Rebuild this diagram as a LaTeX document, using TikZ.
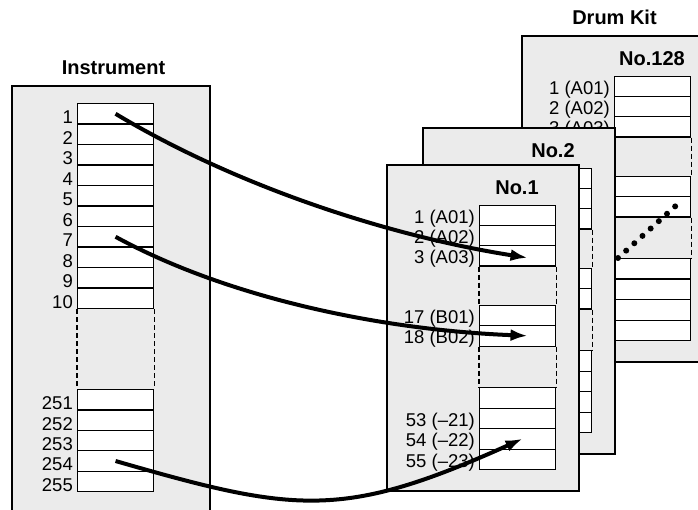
\documentclass[tikz,border=0pt]{standalone}
\usepackage{fontspec}
\setmainfont{Liberation Sans}
\usetikzlibrary{arrows.meta}

\begin{document}
\begin{tikzpicture}[
        x=1pt, y=-1pt,
        % Style for the stippled panels
        panel/.style={draw=black, line width=2.4pt, fill=black!8},
        % Style for one slot of a list
        slot/.style={
            rectangle, draw=black, line width=1.1pt, fill=white,
            minimum width=76pt, minimum height=20.5pt,
            inner sep=0pt, anchor=north west
        },
        % Style for the numbers left of a list
        num/.style={anchor=base east, inner sep=0pt, font=\fontsize{18.5}{18.5}\selectfont},
        heading/.style={anchor=base, inner sep=0pt, font=\fontsize{20}{20}\selectfont\bfseries},
        gap/.style={line width=1.1pt, dash pattern=on 5pt off 3pt},
        maparrow/.style={line width=4pt, -{Latex[length=17pt, width=12pt]}},
        % Reusable "pic" for one drum kit sheet
        drumkit/.pic={
            \draw[panel] (0,0) rectangle (192,326);
            \node[heading] at (130,30) {\tikzpictext};
            \foreach \t/\n in {0/a1, 20/a2, 40/a3, 100/b1, 120/b2,
                               182/c1, 202.5/c2, 223/c3, 243.5/c4}
                \node[slot] (-\n) at (92,{40+\t}) {};
            \draw[gap] (-a3.south west) -- (-b1.north west);
            \draw[gap] (-a3.south east) -- (-b1.north east);
            \draw[gap] (-b2.south west) -- (-c1.north west);
            \draw[gap] (-b2.south east) -- (-c1.north east);
        }
    ]
    \path[use as bounding box, clip] (0,0) rectangle (698,510);

    % 1. Instrument list
    \draw[panel] (12,86) rectangle (210,530);
    \node[heading] (instrument) at (113.5,75) {Instrument};
    \foreach \k in {1,...,10} {
        \node[slot] (inst\k) at (77,{103+20.5*(\k-1)}) {};
        \node[num, xshift=-4pt, yshift=1pt] at (inst\k.south west) {\k};
    }
    \foreach \k in {251,...,255} {
        \node[slot] (inst\k) at (77,{389+20.4*(\k-251)}) {};
        \node[num, xshift=-4pt, yshift=1pt] at (inst\k.south west) {\k};
    }
    \draw[gap] (inst10.south west) -- (inst251.north west);
    \draw[gap] (inst10.south east) -- (inst251.north east);

    % 2. Drum kit sheets, back to front
    \node[heading] (drums) at (614.5,25) {Drum Kit};
    \pic (kit128) at (522,36) [pic text=No.128] {drumkit};
    \foreach \n/\txt in {a1/1 (A01), a2/2 (A02), a3/3 (A03)}
        \node[num, xshift=-4pt, yshift=3pt] at (kit128-\n.south west) {\txt};
    \draw[line width=6pt, line cap=round, dash pattern=on 0pt off 11pt] (618,258) -- (680,202);
    \pic (kit2) at (423,128) [pic text=No.2] {drumkit};
    \pic (kit1) at (387,165) [pic text=No.1] {drumkit};
    \foreach \n/\txt in {a1/1 (A01), a2/2 (A02), a3/3 (A03), b1/17 (B01), b2/18 (B02),
                         c2/53 (--21), c3/54 (--22), c4/55 (--23)}
        \node[num, xshift=-4pt, yshift=3pt] at (kit1-\n.south west) {\txt};

    % 3. Assignments
    \draw[maparrow] (inst1.center) .. controls +(120,72) and +(-140,-22) .. ([xshift=10pt, yshift=-2pt]kit1-a3.center);
    \draw[maparrow] (inst7.center) .. controls +(110,60) and +(-150,-6) .. ([xshift=10pt]kit1-b2.center);
    \draw[maparrow] (inst254.center) .. controls +(180,52) and +(-180,81) .. ([xshift=5pt]kit1-c3.center);

\end{tikzpicture}
\end{document}
